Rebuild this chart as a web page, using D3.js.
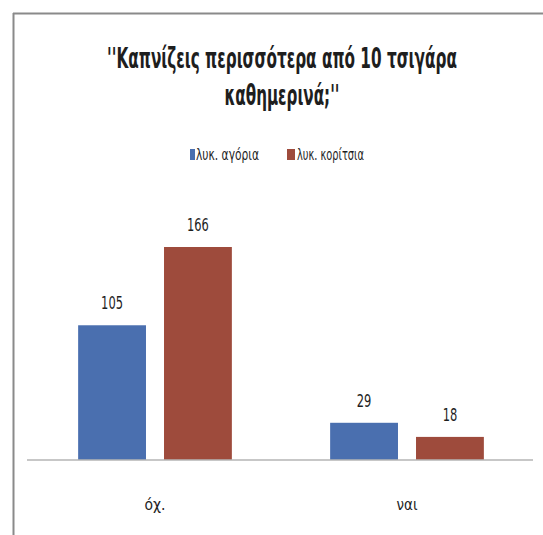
<!DOCTYPE html>
<html>
<head>
<meta charset="utf-8">
<script src="https://cdn.jsdelivr.net/npm/d3@7"></script>
<style>
  html, body { margin: 0; padding: 0; background: #fff; }
  svg { display: block; }
  text { font-family: "DejaVu Sans", "Noto Sans", sans-serif; fill: #1e1e1e; }
</style>
</head>
<body>
<svg id="chart" width="543" height="535"></svg>
<script>
// Answers to the question, split by group
const categories = ["όχι", "ναι"];
const categoryLabels = ["όχ.", "ναι"];
const seriesNames = ["λυκ. αγόρια", "λυκ. κορίτσια"];
const boys = [105, 29];
const girls = [166, 18];
const seriesColors = ["#4A6FAF", "#9E4B3C"];
const titleLines = ["''Καπνίζεις περισσότερα από 10 τσιγάρα", "καθημερινά;''"];

const seriesValues = [boys, girls];
const rows = categories.map((c, i) => ({
  category: c,
  label: categoryLabels[i],
  values: seriesNames.map((s, j) => ({ series: s, value: seriesValues[j][i], color: seriesColors[j] }))
}));

const svg = d3.select("#chart");

// Frame (top and left edges)
svg.append("line").attr("x1", 13).attr("y1", 13.5).attr("x2", 543).attr("y2", 13.5)
  .attr("stroke", "#8a8a8a").attr("stroke-width", 2);
svg.append("line").attr("x1", 13.5).attr("y1", 13).attr("x2", 13.5).attr("y2", 535)
  .attr("stroke", "#8a8a8a").attr("stroke-width", 2);

// Narrow, tall lettering: draw a label at (x, y) and squeeze it horizontally to a given width
function narrowText(parent, str, x, y, size, width, anchor, weight) {
  const t = parent.append("text")
    .attr("x", 0).attr("y", 0)
    .attr("text-anchor", anchor)
    .style("font-size", size + "px")
    .style("font-weight", weight || "normal")
    .text(str);
  const natural = t.node().getComputedTextLength();
  const sx = width / natural;
  t.attr("transform", `translate(${x},${y}) scale(${sx},1)`);
  return t;
}

// Title
const titleWidths = [350, 115];
titleLines.forEach((t, i) => {
  narrowText(svg, t, 282, 68 + i * 37, 28, titleWidths[i], "middle", "bold");
});

// Scales
const baseY = 460;
const x0 = d3.scaleBand().domain(categories).range([29, 533]).paddingInner(0.39).paddingOuter(0.195);
const x1 = d3.scaleBand().domain(seriesNames).range([0, x0.bandwidth()]).paddingInner(0.21);
const y = d3.scaleLinear().domain([0, 166]).range([baseY, 247]);

// Legend
const legendX = [190, 287];
const legendWidths = [63, 67];
seriesNames.forEach((s, j) => {
  const g = svg.append("g").attr("transform", `translate(${legendX[j]},0)`);
  g.append("rect").attr("x", 0).attr("y", 149).attr("width", j === 0 ? 5 : 8).attr("height", 11)
    .attr("fill", seriesColors[j]);
  narrowText(g, s, j === 0 ? 6 : 10, 160, 16, legendWidths[j], "start");
});

// Bars
const groups = svg.append("g").selectAll("g").data(rows).join("g")
  .attr("transform", d => `translate(${x0(d.category)},0)`);

groups.selectAll("rect").data(d => d.values).join("rect")
  .attr("x", d => x1(d.series))
  .attr("y", d => y(d.value))
  .attr("width", x1.bandwidth())
  .attr("height", d => baseY - y(d.value))
  .attr("fill", d => d.color);

// Value labels above the bars
groups.each(function(row) {
  const g = d3.select(this);
  row.values.forEach(d => {
    narrowText(g, String(d.value), x1(d.series) + x1.bandwidth() / 2, y(d.value) - 16,
      18, String(d.value).length * 7.3, "middle");
  });
});

// Category axis
const axis = svg.append("g").attr("transform", `translate(0,${baseY})`)
  .call(d3.axisBottom(x0).tickSize(0).tickFormat(""));
axis.select(".domain").attr("stroke", "#b5b5b5").attr("stroke-width", 1.5).attr("d", "M27,0H533");
rows.forEach(r => {
  narrowText(axis, r.label, x0(r.category) + x0.bandwidth() / 2, 50, 16, 21, "middle");
});
</script>
</body>
</html>
